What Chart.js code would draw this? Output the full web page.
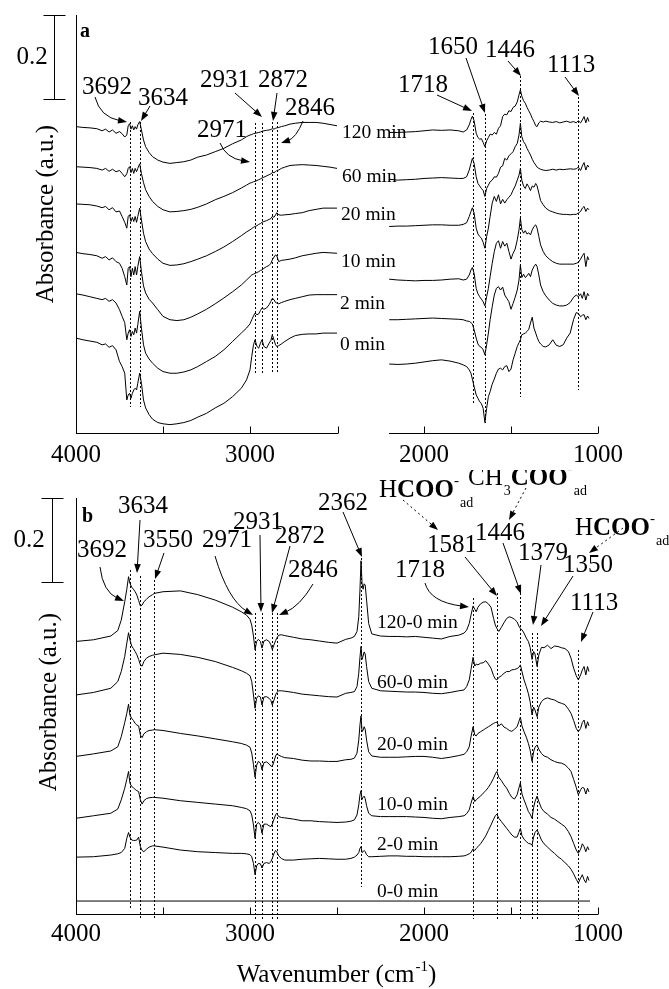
<!DOCTYPE html>
<html><head><meta charset="utf-8">
<script src="https://cdn.jsdelivr.net/npm/chart.js@4/dist/chart.umd.min.js"></script>
<style>
html,body{margin:0;padding:0;background:#fff;width:669px;height:989px;overflow:hidden}
.wrap{position:absolute;left:0;width:669px}
#wa{top:0;height:470px}
#wb{top:470px;height:519px}
canvas{display:block}
</style></head>
<body>
<div class="wrap" id="wa"><canvas id="ca" width="669" height="470"></canvas></div>
<div class="wrap" id="wb"><canvas id="cb" width="669" height="519"></canvas></div>
<script>
// ---------------- DATA: panel a (spectra at reaction times) ----------------
const aTimeLabels = ['120 min','60 min','20 min','10 min','2 min','0 min'];
const aLeftWn = [4000,3960,3920,3880,3850,3830,3810,3790,3770,3750,3735,3720,3708,3700,3692,3684,3676,3668,3660,3652,3645,3634,3624,3612,3600,3580,3560,3530,3500,3460,3420,3380,3340,3300,3250,3200,3150,3100,3050,3020,3000,2990,2980,2971,2960,2950,2940,2931,2920,2905,2890,2880,2872,2862,2853,2846,2835,2820,2800,2770,2740,2700,2660,2620,2580,2540,2500];
const a120L = [.733,.731,.730,.728,.723,.727,.720,.725,.717,.721,.716,.708,.713,.735,.740,.727,.735,.725,.733,.727,.737,.745,.725,.701,.685,.671,.661,.653,.648,.645,.647,.649,.653,.660,.665,.673,.681,.692,.701,.709,.713,.714,.716,.717,.718,.719,.720,.722,.723,.724,.725,.726,.728,.727,.729,.730,.731,.733,.735,.739,.741,.743,.743,.743,.741,.738,.735];
const a60L = [.637,.636,.635,.633,.629,.633,.626,.631,.625,.628,.621,.613,.620,.633,.637,.623,.633,.621,.633,.625,.633,.644,.621,.599,.582,.566,.554,.542,.534,.529,.530,.532,.535,.540,.548,.558,.566,.575,.586,.593,.598,.599,.601,.602,.604,.606,.608,.610,.612,.615,.618,.620,.623,.623,.625,.628,.629,.633,.636,.640,.641,.642,.641,.640,.638,.636,.633];
const a20L = [.548,.547,.546,.543,.539,.542,.534,.539,.529,.531,.518,.504,.490,.518,.522,.506,.516,.506,.518,.504,.518,.538,.510,.478,.458,.440,.429,.416,.406,.401,.402,.405,.410,.416,.424,.434,.445,.458,.472,.481,.486,.489,.492,.494,.496,.499,.501,.504,.506,.508,.511,.513,.518,.516,.522,.527,.522,.521,.522,.523,.525,.527,.532,.535,.538,.538,.538];
const a10L = [.432,.429,.427,.424,.418,.422,.414,.419,.410,.406,.394,.374,.354,.394,.398,.374,.394,.378,.398,.378,.398,.422,.386,.352,.335,.320,.311,.295,.279,.271,.269,.271,.277,.285,.296,.309,.323,.338,.354,.366,.374,.378,.380,.382,.384,.386,.389,.390,.394,.398,.401,.406,.414,.421,.426,.424,.410,.413,.414,.416,.419,.424,.427,.430,.432,.431,.430];
const a2L = [.333,.330,.326,.322,.319,.322,.315,.319,.311,.295,.279,.264,.223,.239,.247,.231,.243,.235,.251,.239,.259,.291,.251,.211,.191,.177,.167,.155,.147,.143,.143,.146,.151,.159,.171,.183,.199,.219,.239,.251,.261,.271,.280,.287,.283,.285,.293,.299,.296,.299,.307,.315,.322,.319,.312,.311,.309,.312,.315,.319,.322,.326,.330,.331,.331,.331,.331];
const a0L = [.227,.223,.220,.217,.211,.213,.205,.209,.199,.171,.159,.143,.079,.091,.095,.083,.095,.103,.107,.103,.119,.143,.119,.079,.060,.044,.033,.025,.022,.020,.022,.025,.030,.038,.047,.060,.071,.087,.107,.127,.151,.183,.211,.223,.207,.203,.215,.223,.207,.203,.215,.221,.235,.223,.211,.207,.209,.213,.219,.227,.233,.236,.237,.237,.239,.239,.239];

const aRightWn = [2200,2150,2100,2050,2000,1950,1900,1850,1800,1775,1755,1740,1730,1722,1712,1700,1690,1680,1670,1660,1650,1640,1630,1620,1608,1596,1584,1572,1560,1548,1536,1524,1512,1500,1488,1476,1464,1454,1446,1438,1428,1418,1408,1398,1388,1378,1368,1358,1350,1340,1330,1315,1300,1280,1260,1240,1220,1200,1180,1160,1140,1125,1113,1100,1090,1080,1070,1060,1052];
const a120R = [.719,.719,.720,.721,.723,.725,.724,.725,.723,.720,.725,.737,.750,.758,.747,.717,.707,.703,.704,.695,.685,.699,.707,.715,.713,.719,.715,.729,.735,.757,.763,.761,.771,.769,.779,.782,.792,.809,.821,.806,.795,.789,.779,.771,.763,.753,.745,.735,.733,.742,.746,.744,.746,.744,.743,.745,.742,.744,.746,.743,.745,.742,.747,.742,.749,.757,.742,.755,.745];
const a60R = [.607,.605,.606,.607,.609,.610,.611,.610,.609,.609,.613,.629,.645,.657,.645,.613,.597,.591,.585,.580,.566,.585,.593,.601,.605,.613,.612,.621,.636,.639,.657,.653,.663,.668,.673,.685,.693,.713,.741,.709,.697,.691,.681,.673,.665,.655,.647,.641,.636,.633,.631,.629,.628,.629,.631,.629,.631,.630,.631,.632,.631,.632,.636,.628,.639,.647,.629,.641,.636];
const a20R = [.494,.495,.495,.496,.497,.498,.498,.497,.497,.499,.503,.518,.530,.539,.526,.490,.476,.470,.466,.456,.442,.470,.490,.518,.550,.566,.554,.570,.548,.559,.550,.558,.564,.570,.581,.591,.605,.617,.633,.605,.591,.585,.596,.589,.580,.591,.588,.597,.591,.574,.556,.546,.538,.532,.529,.526,.524,.523,.523,.522,.523,.523,.526,.530,.538,.542,.530,.538,.534];
const a10R = [.368,.366,.365,.364,.365,.365,.366,.368,.369,.366,.368,.378,.390,.396,.382,.346,.333,.326,.320,.314,.304,.326,.346,.374,.406,.434,.454,.460,.442,.458,.447,.454,.434,.416,.430,.440,.462,.486,.514,.487,.478,.484,.476,.479,.474,.486,.494,.498,.490,.470,.450,.434,.424,.416,.410,.406,.404,.404,.404,.404,.404,.406,.408,.416,.424,.430,.398,.422,.414];
const a2R = [.271,.271,.272,.273,.274,.275,.274,.273,.272,.271,.268,.267,.264,.261,.247,.227,.213,.207,.205,.199,.187,.211,.239,.271,.302,.330,.346,.350,.342,.349,.330,.322,.314,.296,.310,.325,.342,.366,.402,.372,.380,.372,.376,.382,.374,.390,.398,.404,.398,.378,.354,.338,.328,.318,.310,.306,.304,.304,.306,.312,.325,.330,.326,.333,.322,.338,.318,.334,.328];
const a0R = [.165,.164,.165,.167,.170,.173,.175,.172,.167,.163,.159,.151,.143,.129,.111,.091,.083,.075,.070,.059,.025,.059,.087,.099,.117,.129,.143,.153,.155,.151,.159,.161,.147,.153,.175,.191,.207,.216,.223,.235,.237,.239,.243,.248,.263,.277,.251,.239,.229,.219,.213,.207,.206,.211,.223,.210,.207,.211,.227,.239,.272,.288,.286,.278,.282,.283,.271,.280,.274];

const aPeaks = [3692,3634,2971,2931,2872,2846,1718,1650,1446,1113];

// ---------------- DATA: panel b (difference spectra) ----------------
const bTimeLabels = ['120-0 min','60-0 min','20-0 min','10-0 min','2-0 min','0-0 min'];
const bWn = [4000,3900,3800,3760,3740,3720,3708,3698,3690,3680,3670,3660,3650,3640,3630,3620,3610,3595,3580,3560,3550,3500,3400,3300,3200,3100,3050,3020,3000,2990,2980,2971,2962,2952,2940,2931,2920,2905,2890,2880,2872,2862,2853,2846,2835,2820,2800,2750,2700,2650,2600,2550,2500,
 2450,2420,2400,2385,2375,2368,2362,2356,2350,2344,2338,2330,2318,2300,2250,2200,2150,2100,2050,2000,1950,1900,1850,1800,1770,1755,1740,1730,1718,1708,1700,1690,1675,1660,1645,1630,1615,1600,1590,1581,1570,1555,1540,1525,1510,1495,1480,1465,1455,1446,1437,1425,1412,1400,1390,1379,1370,1362,1350,1340,1325,1310,1290,1270,1250,1230,1210,1190,1170,1155,1140,1125,1113,1100,1090,1080,1070,1060,1052];
const b120 = [.652,.656,.665,.678,.703,.747,.777,.807,.791,.782,.777,.771,.763,.750,.737,.739,.747,.753,.759,.764,.767,.771,.773,.764,.751,.734,.723,.715,.705,.691,.665,.632,.652,.657,.652,.636,.653,.656,.652,.644,.633,.644,.654,.660,.667,.668,.666,.662,.658,.656,.653,.650,.648,
 .657,.660,.664,.676,.711,.775,.845,.791,.777,.790,.787,.751,.695,.670,.665,.664,.664,.663,.664,.662,.660,.658,.664,.667,.672,.679,.695,.715,.737,.729,.723,.734,.742,.746,.747,.742,.734,.707,.691,.683,.676,.686,.697,.707,.711,.709,.705,.699,.689,.683,.680,.672,.660,.652,.638,.609,.628,.622,.592,.620,.638,.637,.643,.635,.641,.640,.637,.635,.628,.612,.588,.570,.560,.572,.584,.592,.572,.592,.580];
const b60 = [.524,.530,.540,.556,.580,.616,.648,.673,.656,.641,.635,.628,.620,.609,.596,.593,.604,.612,.616,.619,.620,.624,.621,.614,.604,.590,.582,.576,.570,.556,.524,.492,.516,.522,.519,.500,.519,.520,.516,.511,.500,.512,.524,.530,.534,.534,.533,.530,.526,.524,.522,.520,.519,
 .528,.530,.532,.544,.576,.614,.640,.609,.617,.627,.622,.592,.556,.540,.534,.533,.532,.531,.531,.530,.528,.527,.530,.534,.536,.544,.560,.585,.614,.593,.598,.596,.600,.601,.606,.598,.588,.570,.562,.560,.566,.570,.576,.580,.580,.584,.585,.587,.590,.596,.580,.560,.544,.527,.508,.476,.495,.488,.472,.495,.508,.514,.517,.514,.512,.507,.504,.501,.490,.480,.463,.444,.436,.444,.458,.464,.444,.460,.450];
const b20 = [.377,.383,.390,.400,.424,.458,.480,.502,.476,.468,.463,.456,.452,.450,.428,.422,.431,.436,.439,.440,.441,.439,.432,.426,.419,.412,.408,.404,.399,.385,.357,.327,.356,.365,.361,.345,.362,.364,.359,.354,.353,.365,.378,.383,.380,.377,.374,.372,.368,.366,.366,.365,.365,
 .369,.370,.373,.385,.416,.452,.474,.436,.440,.448,.442,.416,.388,.378,.375,.375,.375,.376,.377,.377,.375,.372,.375,.379,.382,.388,.400,.424,.448,.428,.426,.432,.436,.440,.444,.448,.452,.456,.458,.459,.450,.455,.447,.444,.439,.437,.442,.448,.460,.471,.450,.436,.423,.408,.392,.365,.388,.399,.404,.394,.384,.378,.375,.369,.365,.362,.361,.357,.349,.341,.322,.303,.285,.297,.303,.301,.287,.301,.292];
const b10 = [.229,.235,.241,.251,.273,.301,.322,.341,.313,.305,.302,.298,.295,.293,.273,.263,.271,.276,.278,.279,.279,.277,.271,.267,.263,.259,.255,.252,.247,.237,.213,.181,.215,.219,.213,.193,.215,.215,.211,.209,.215,.227,.237,.241,.233,.231,.230,.227,.223,.223,.221,.220,.219,
 .220,.222,.225,.237,.261,.285,.295,.274,.279,.282,.276,.259,.241,.235,.233,.233,.233,.233,.232,.231,.229,.228,.231,.233,.235,.240,.249,.265,.281,.269,.273,.277,.282,.289,.295,.303,.313,.325,.335,.341,.327,.319,.309,.301,.289,.279,.275,.285,.301,.314,.287,.273,.259,.245,.239,.229,.255,.269,.282,.269,.253,.245,.239,.231,.227,.221,.215,.209,.197,.185,.169,.153,.145,.155,.168,.161,.149,.161,.153];
const b2 = [.136,.137,.141,.144,.147,.157,.181,.195,.184,.177,.176,.176,.177,.184,.161,.152,.149,.155,.160,.163,.163,.160,.153,.149,.147,.145,.145,.144,.142,.137,.121,.094,.115,.121,.120,.110,.121,.123,.121,.125,.133,.145,.152,.149,.139,.133,.129,.129,.131,.132,.133,.132,.131,
 .131,.133,.136,.141,.147,.157,.161,.147,.149,.152,.149,.142,.137,.137,.138,.139,.139,.138,.138,.137,.137,.137,.137,.138,.139,.141,.144,.147,.156,.152,.157,.161,.168,.177,.187,.200,.213,.227,.235,.239,.229,.221,.213,.205,.197,.189,.184,.184,.195,.205,.187,.179,.173,.169,.168,.165,.184,.195,.201,.192,.177,.168,.160,.152,.145,.137,.131,.123,.115,.107,.096,.083,.074,.086,.094,.082,.075,.090,.080];
const b0Wn = [4000,1046];
const b0 = [.031,.031];

const bPeaks = [3692,3634,3550,2971,2931,2872,2846,2362,1718,1581,1446,1379,1350,1113];
const xTickValues = [1000,1500,2000,2500,3000,3500,4000];

// ---------------- LAYOUT (page pixel positions of annotations) ----------------
const SERIF = '"Liberation Serif","Times New Roman",serif';
const layoutA = {
  off: 0, barX: 54, barLabelX: 32, panel: 'a', panelPos: [80, 37], titleX: 46, titleY: 214,
  axisSegments: [[4000, 2494], [2201, 1000]], tickMarks: [3500, 3000, 2494, 2000, 1500, 1000],
  timePos: [[342,138],[342,182],[341,220],[341,267],[340,309],[340,350]],
  peakPos: {3692:[82,94],3634:[138,105],2971:[197,137],2931:[200,87],2872:[258,87],2846:[285,115],1718:[398,92],1650:[428,54],1446:[485,57],1113:[547,72]},
  arrows: {3692:[95,97,100,117,127,122],3634:[150,106,141,121],2971:[220,143,226,158,250,162],2931:[235,93,262,117],2872:[277,93,273,121],2846:[303,121,296,138,281,143],1718:[437,95,472,111],1650:[466,58,485,113],1446:[508,61,521,76],1113:[565,77,579,96]},
  dots: {3692:[122,407],3634:[122,407],2971:[123,373],2931:[123,373],2872:[122,373],2846:[122,373],1718:[113,405],1650:[114,423],1446:[76,397],1113:[97,390]},
  species: [], dashed: []
};
const layoutB = {
  off: 470, barX: 52, barLabelX: 29, panel: 'b', panelPos: [82, 522], titleX: 49, titleY: 702,
  axisSegments: [[4000, 1000]], tickMarks: [3500, 3000, 2500, 2000, 1500, 1000],
  timePos: [[377,628],[377,688],[377,750],[377,810],[377,850],[377,897]],
  peakPos: {3692:[77,557],3634:[118,513],3550:[143,547],2971:[202,547],2931:[233,529],2872:[275,543],2846:[288,577],2362:[318,510],1718:[395,577],1581:[427,552],1446:[475,540],1379:[518,560],1350:[563,572],1113:[570,610]},
  arrows: {3692:[100,567,103,592,124,601],3634:[140,520,137,573],3550:[164,553,155,579],2971:[215,556,228,600,253,615],2931:[260,535,261,612],2872:[290,546,272,613],2846:[313,584,300,606,279,615],2362:[343,512,362,557],1718:[425,583,430,602,469,607],1581:[465,557,497,596],1446:[503,543,521,594],1379:[541,565,533,625],1350:[573,576,541,626],1113:[593,612,581,642]},
  dots: {3692:[570,908],3634:[576,919],3550:[580,919],2971:[613,919],2931:[613,919],2872:[613,919],2846:[613,919],2362:[558,887],1718:[598,919],1581:[593,919],1446:[593,919],1379:[633,919],1350:[633,919],1113:[650,919]},
  species: [
    {x: 379, y: 497, parts: [['H','n'],['COO','b'],['-','sup'],['ad','sub']]},
    {x: 468, y: 485, parts: [['CH','n'],['3','sub'],['COO','b'],['-','sup'],['ad','sub']]},
    {x: 575, y: 535, parts: [['H','n'],['COO','b'],['-','sup'],['ad','sub']]}
  ],
  dashed: [[403,500,438,530],[526,488,509,520],[623,528,589,553]],
  xTitle: {cx: 336, y: 982}
};

// ---------------- helpers ----------------
function setFont(ctx, size, bold) { ctx.font = (bold ? 'bold ' : '') + size + 'px ' + SERIF; }
function arrow(ctx, p, dashed) {
  const n = p.length, tx = p[n-2], ty = p[n-1];
  const fx = n === 6 ? p[2] : p[0], fy = n === 6 ? p[3] : p[1];
  const a = Math.atan2(ty - fy, tx - fx), L = 9, W = 3.3;
  const bx = tx - L * 0.8 * Math.cos(a), by = ty - L * 0.8 * Math.sin(a);
  ctx.save();
  if (dashed) ctx.setLineDash([2, 3]);
  ctx.beginPath(); ctx.moveTo(p[0], p[1]);
  if (n === 6) ctx.quadraticCurveTo(p[2], p[3], bx, by); else ctx.lineTo(bx, by);
  ctx.stroke(); ctx.setLineDash([]);
  ctx.beginPath(); ctx.moveTo(tx, ty);
  ctx.lineTo(tx - L*Math.cos(a) + W*Math.sin(a), ty - L*Math.sin(a) - W*Math.cos(a));
  ctx.lineTo(tx - L*Math.cos(a) - W*Math.sin(a), ty - L*Math.sin(a) + W*Math.cos(a));
  ctx.closePath(); ctx.fill();
  ctx.restore();
}
function drawSpecies(ctx, s) {
  let x = s.x;
  ctx.textAlign = 'left'; ctx.textBaseline = 'alphabetic';
  for (const [t, k] of s.parts) {
    let y = s.y;
    if (k === 'sup') { setFont(ctx, 15, false); y = s.y - 12; }
    else if (k === 'sub') { setFont(ctx, 14, false); y = s.y + 10; x += 1; }
    else setFont(ctx, 25, k === 'b');
    ctx.fillText(t, x, y);
    x += ctx.measureText(t).width;
  }
}

function annotate(chart, L, peaks, timeLabels) {
  const ctx = chart.ctx, xs = chart.scales.x, ys = chart.scales.y, ca = chart.chartArea;
  ctx.save();
  ctx.strokeStyle = '#000'; ctx.fillStyle = '#000'; ctx.lineWidth = 1;
  // x axis line(s) and inward tick marks
  const yb = Math.round(ca.bottom) + 0.5;
  ctx.beginPath();
  L.axisSegments.forEach(([w0, w1]) => { ctx.moveTo(xs.getPixelForValue(w0), yb); ctx.lineTo(xs.getPixelForValue(w1), yb); });
  L.tickMarks.forEach(w => { const x = Math.round(xs.getPixelForValue(w)) + 0.5; ctx.moveTo(x, yb); ctx.lineTo(x, yb - 7); });
  ctx.stroke();
  // 0.2 absorbance scale bar
  const t = Math.round(ys.getPixelForValue(ys.max)) + 0.5, b = Math.round(ys.getPixelForValue(ys.max - 0.2)) + 0.5;
  const sx = L.barX + 0.5;
  ctx.beginPath();
  ctx.moveTo(sx, t); ctx.lineTo(sx, b);
  ctx.moveTo(sx - 11, t); ctx.lineTo(sx + 11, t);
  ctx.moveTo(sx - 11, b); ctx.lineTo(sx + 11, b);
  ctx.stroke();
  setFont(ctx, 25, false); ctx.textAlign = 'center'; ctx.textBaseline = 'middle';
  ctx.fillText('0.2', L.barLabelX, (t + b) / 2);

  // everything below in page coordinates
  ctx.translate(0, -L.off);
  // dotted marker lines at band positions
  ctx.save(); ctx.setLineDash([2, 2]);
  peaks.forEach(w => {
    const d = L.dots[w]; if (!d) return;
    const x = Math.round(xs.getPixelForValue(w)) + 0.5;
    ctx.beginPath(); ctx.moveTo(x, d[0]); ctx.lineTo(x, d[1]); ctx.stroke();
  });
  ctx.restore();
  // arrows
  peaks.forEach(w => { if (L.arrows[w]) arrow(ctx, L.arrows[w], false); });
  L.dashed.forEach(p => arrow(ctx, p, true));
  // band labels
  setFont(ctx, 25, false); ctx.textAlign = 'left'; ctx.textBaseline = 'alphabetic';
  peaks.forEach(w => { const p = L.peakPos[w]; if (p) ctx.fillText(String(w), p[0], p[1]); });
  // time labels
  setFont(ctx, 19.5, false);
  timeLabels.forEach((s, i) => ctx.fillText(s, L.timePos[i][0], L.timePos[i][1]));
  // adsorbed species
  L.species.forEach(s => drawSpecies(ctx, s));
  // panel letter
  setFont(ctx, 20, true); ctx.textAlign = 'left'; ctx.textBaseline = 'alphabetic';
  ctx.fillText(L.panel, L.panelPos[0], L.panelPos[1]);
  // y-axis title
  ctx.save(); ctx.translate(L.titleX, L.titleY); ctx.rotate(-Math.PI / 2);
  setFont(ctx, 25, false); ctx.textAlign = 'center'; ctx.textBaseline = 'middle';
  ctx.fillText('Absorbance (a.u.)', 0, 0); ctx.restore();
  // x-axis title with superscript
  if (L.xTitle) {
    setFont(ctx, 25, false); const w1 = ctx.measureText('Wavenumber (cm').width;
    setFont(ctx, 15, false); const w2 = ctx.measureText('-1').width;
    setFont(ctx, 25, false); const w3 = ctx.measureText(')').width;
    let x = L.xTitle.cx - (w1 + w2 + w3) / 2; const y = L.xTitle.y;
    ctx.textAlign = 'left'; ctx.textBaseline = 'alphabetic';
    ctx.fillText('Wavenumber (cm', x, y); x += w1;
    setFont(ctx, 15, false); ctx.fillText('-1', x + 1, y - 11); x += w2 + 1;
    setFont(ctx, 25, false); ctx.fillText(')', x, y);
  }
  ctx.restore();
}

const ser = (wn, v) => wn.map((x, i) => ({x: x, y: v[i]}));
const lineDs = d => ({data: d, borderColor: '#000', borderWidth: 1, pointRadius: 0, fill: false, tension: 0, spanGaps: false});

function baseOptions(padTop, axisH, yMax, tickPad) {
  return {
    responsive: false, animation: false, events: [],
    layout: {padding: {left: 76, right: 71, top: padTop, bottom: 0}, autoPadding: false},
    plugins: {legend: {display: false}, tooltip: {enabled: false}},
    scales: {
      x: {type: 'linear', reverse: true, min: 1000, max: 4000, position: 'bottom',
          grid: {display: false, drawTicks: false}, border: {display: false},
          afterBuildTicks: s => { s.ticks = xTickValues.map(v => ({value: v})); },
          ticks: {padding: tickPad, color: '#000', maxRotation: 0, autoSkip: false,
                  font: {family: SERIF, size: 25},
                  callback: v => (v % 1000 === 0 ? String(v) : '')},
          afterFit: s => { s.height = axisH; }},
      y: {type: 'linear', min: 0, max: yMax,
          grid: {display: false, drawTicks: false},
          border: {display: true, color: '#000', width: 1},
          ticks: {display: false},
          afterFit: s => { s.width = 0; }}
    }
  };
}

// panel a
const aLeftSets = [a120L, a60L, a20L, a10L, a2L, a0L];
const aRightSets = [a120R, a60R, a20R, a10R, a2R, a0R];
const aData = aLeftSets.map((Ls, i) => ser(aLeftWn, Ls).concat([{x: 2350, y: null}], ser(aRightWn, aRightSets[i])));
new Chart(document.getElementById('ca'), {
  type: 'line',
  data: {datasets: aData.map((d, i) => Object.assign(lineDs(d), {label: aTimeLabels[i]}))},
  options: baseOptions(15, 37, 1.0, 7),
  plugins: [{id: 'annotA', afterDraw: c => annotate(c, layoutA, aPeaks, aTimeLabels)}]
});

// panel b
const bSets = [b120, b60, b20, b10, b2];
const bData = bSets.map(v => ser(bWn, v)).concat([ser(b0Wn, b0)]);
new Chart(document.getElementById('cb'), {
  type: 'line',
  data: {datasets: bData.map((d, i) => Object.assign(lineDs(d), {label: bTimeLabels[i]}))},
  options: baseOptions(28, 75, 416 / 418, 5),
  plugins: [{id: 'annotB', afterDraw: c => annotate(c, layoutB, bPeaks, bTimeLabels)}]
});
</script>
</body></html>
